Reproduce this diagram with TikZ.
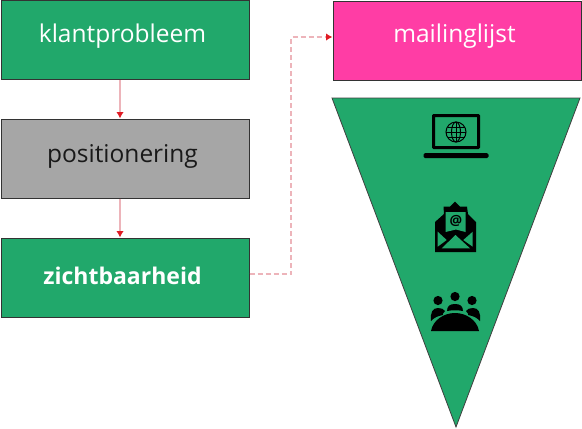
\documentclass[tikz,border=0pt]{standalone}
\usepackage{fontspec}
\setmainfont{Open Sans}
\usetikzlibrary{arrows.meta,calc}
\definecolor{groen}{HTML}{21A86B}
\definecolor{grijs}{HTML}{A6A6A6}
\definecolor{roze}{HTML}{FF3DA5}
\definecolor{rood}{HTML}{E01B24}
\definecolor{lijn}{HTML}{EDB4BA}
\tikzset{
  blok/.style={draw=black!80,line width=1pt,minimum width=248pt,minimum height=79pt,inner sep=0pt,font=\fontsize{24.5}{28}\selectfont},
  wit/.style={text=white},
  pijl/.style={draw=lijn,line width=1.2pt,-{Latex[length=6.5pt,width=7.5pt,color=rood]}},
  pijlstreep/.style={pijl,dash pattern=on 5pt off 3pt},
  icoonlijn/.style={draw=black,fill=none}
}
\newcommand{\tekst}[2]{\makebox[0pt]{\kern-5pt\raisebox{#1}[0pt][0pt]{#2}}}
\begin{document}
\begin{tikzpicture}[x=1pt,y=-1pt]
\useasboundingbox (0,0) rectangle (582,429);
\node[blok,fill=groen,wit] (k) at (125,40) {\tekst{-2pt}{klantprobleem}};
\node[blok,fill=grijs,text=black!90] (p) at (125,158.5) {\tekst{-3.5pt}{positionering}};
\node[blok,fill=groen,wit,font=\fontsize{23}{28}\selectfont\bfseries] (z) at (125,277.5) {\tekst{-6.5pt}{zichtbaarheid}};
\node[blok,fill=roze,wit] (m) at (457,40.5) {\tekst{-2pt}{mailinglijst}};
\coordinate (tl) at (332,98);
\coordinate (tr) at (580,98);
\coordinate (tb) at (456,427);
\draw[fill=groen,draw=black!75,line width=0.8pt] (tl) -- (tr) -- (tb) -- cycle;
\draw[pijl] (k.south -| 120,0) -- (p.north -| 120,0);
\draw[pijl] (p.south -| 120,0) -- (z.north -| 120,0);
\coordinate (h) at (291,37);
\draw[pijlstreep] (z.east |- 0,274) -- (291,274) -- (h) -- (h -| m.west);
% laptop
\draw[black,line width=3pt,rounded corners=0.6pt] (433.5,115.5) rectangle (478.5,147.5);
\fill[black,rounded corners=1.5pt] (423.5,153) rectangle (488.5,158);
\draw[icoonlijn,line width=1pt] (456,132) circle (10);
\draw[icoonlijn,line width=1pt] (456,132) ellipse (4.5 and 10);
\draw[icoonlijn,line width=1pt] (446,132) -- (466,132) (447.5,127) -- (464.5,127) (447.5,137) -- (464.5,137) (456,122) -- (456,142);
% envelope
\fill[black] (435,222) -- (444,214) -- (443.5,206.7) -- (450,206.7) -- (455,201.7) -- (460,206.7) -- (467,206.7) -- (468,214) -- (476,222) -- (476,252) -- (435,252) -- cycle;
\fill[groen] (437.7,231.7) -- (446.7,240) -- (437.7,246.7) -- cycle;
\fill[groen] (472.7,231.7) -- (463.3,240) -- (472.7,246.7) -- cycle;
\fill[groen] (441.7,248.3) -- (455.5,235) -- (470,248.3) -- cycle;
\fill[groen] (445.5,212) -- (465.5,212) -- (465.5,232) -- (456,229.5) -- (445.5,232) -- cycle;
\node[text=black,inner sep=0pt,font=\fontsize{14}{14}\selectfont\bfseries] (apenstaart) at (456,220.5) {@};
% people
\fill[black] (438,300.5) circle (4.6);
\fill[black] (455,296.5) circle (4.6);
\fill[black] (472,300.5) circle (4.6);
\fill[black] (431,321) .. controls (430,312) and (433,308) .. (438,308) .. controls (441,308) and (444,309) .. (445,311) .. controls (443,313) and (442,315) .. (443,315) .. controls (437,316) and (434,318) .. (431,321) -- cycle;
\fill[black] (480,321) .. controls (481,312) and (478,308) .. (473,308) .. controls (470,308) and (467,309) .. (466,311) .. controls (468,313) and (469,315) .. (468,315) .. controls (474,316) and (477,318) .. (480,321) -- cycle;
\fill[black] (447,311) .. controls (447,306) and (450,304) .. (455,304) .. controls (460,304) and (463,306) .. (463,311) .. controls (458,310) and (452,310) .. (447,311) -- cycle;
\fill[black] (431,331) .. controls (433,320) and (444,313) .. (455,313) .. controls (466,313) and (477,320) .. (479,331) -- cycle;
\end{tikzpicture}
\end{document}
